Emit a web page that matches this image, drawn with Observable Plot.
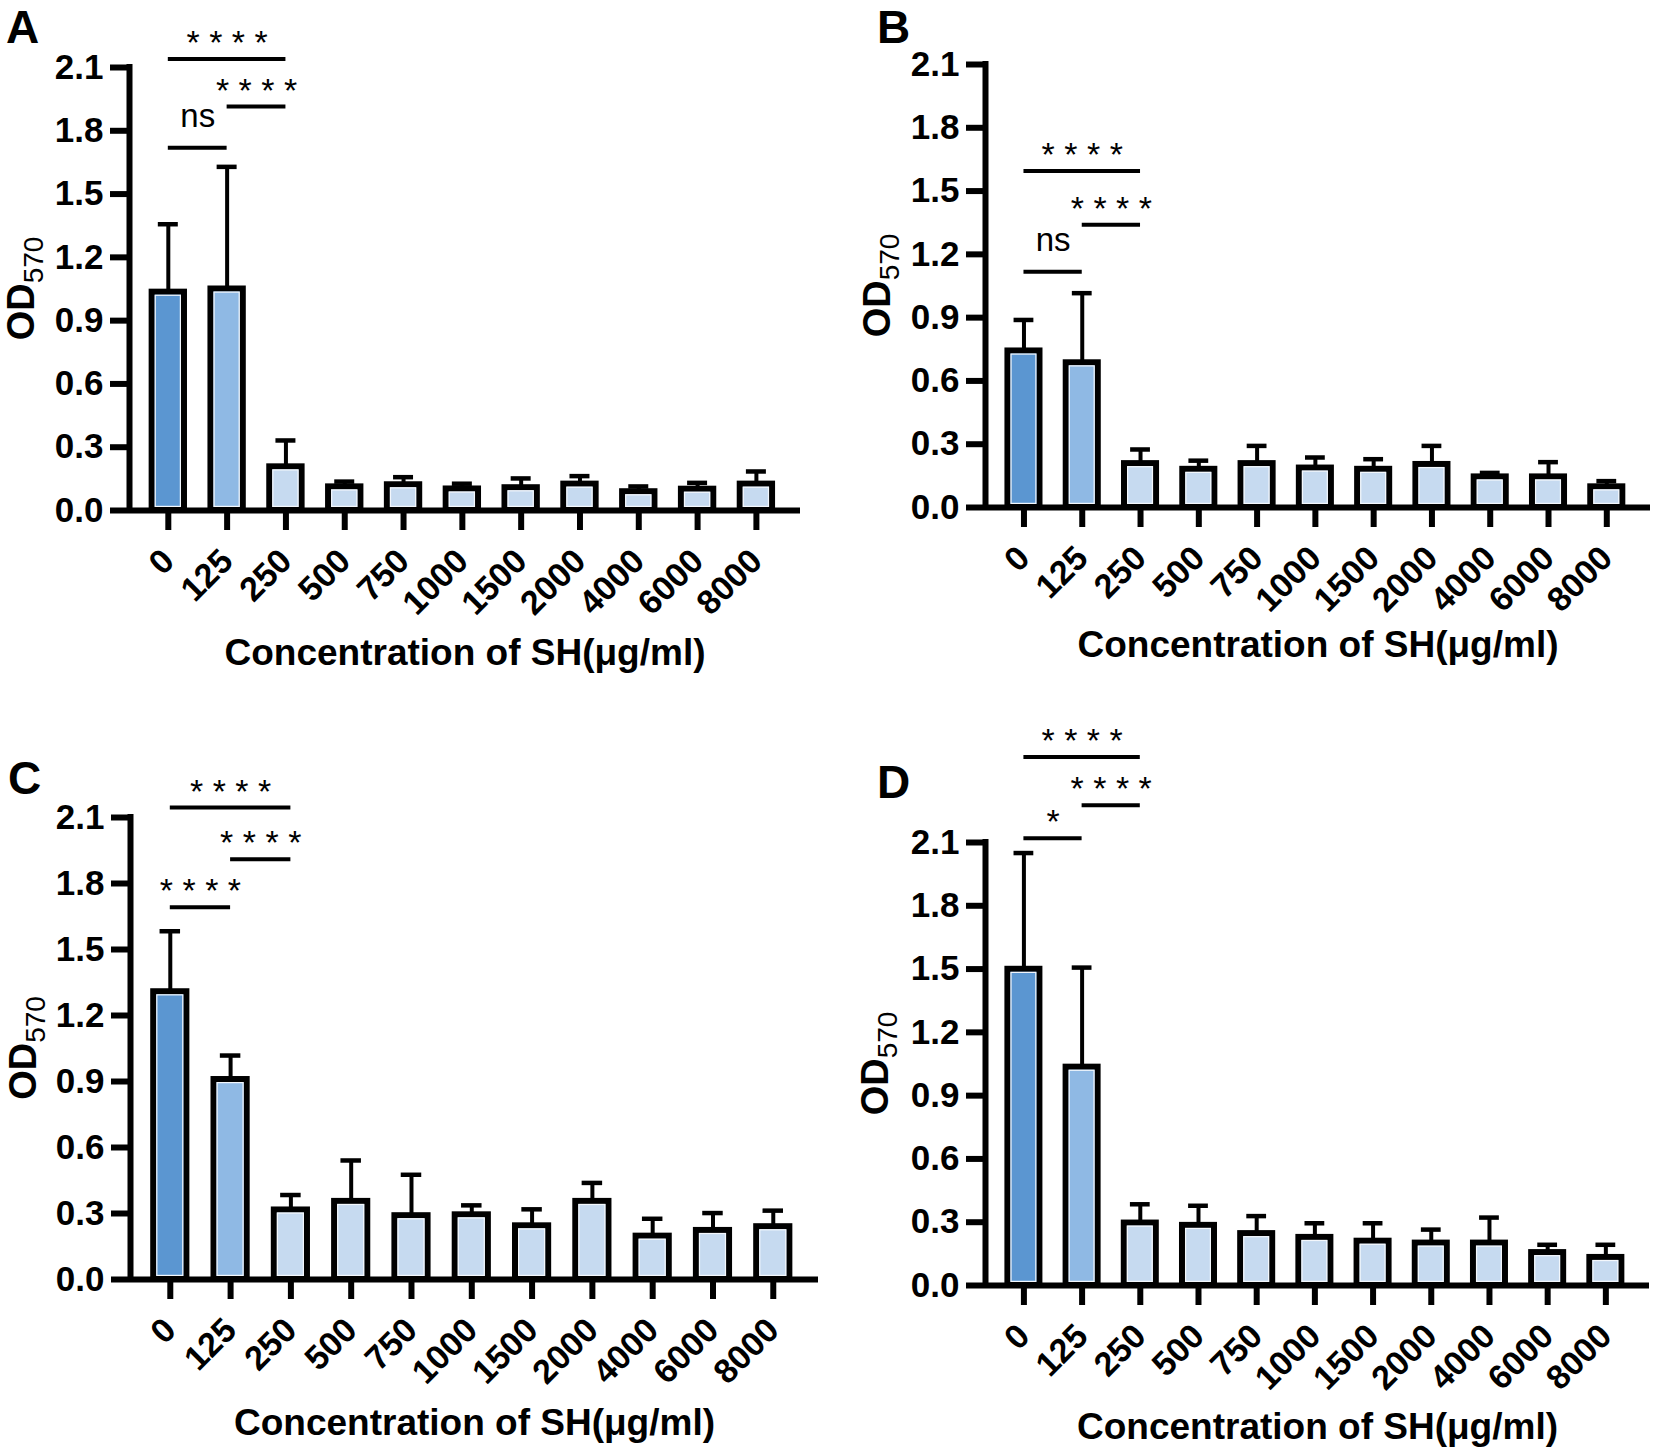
<!DOCTYPE html>
<html>
<head>
<meta charset="utf-8">
<script src="https://cdn.jsdelivr.net/npm/d3@7"></script>
<script src="https://cdn.jsdelivr.net/npm/@observablehq/plot@0.6"></script>
<style>
  html, body { margin: 0; padding: 0; background: #fff; }
  #fig { position: relative; width: 1653px; height: 1449px; background: #fff; overflow: hidden; }
  #fig svg { position: absolute; max-width: none; }
</style>
</head>
<body>
<div id="fig"></div>
<script>
// ---------- data ----------
const concentrations = ["0", "125", "250", "500", "750", "1000", "1500", "2000", "4000", "6000", "8000"];
const yTickValues = [0, 0.3, 0.6, 0.9, 1.2, 1.5, 1.8, 2.1];

const meanA = [1.035, 1.05, 0.207, 0.112, 0.122, 0.102, 0.108, 0.125, 0.089, 0.101, 0.125];
const sdA   = [0.322, 0.579, 0.125, 0.025, 0.036, 0.025, 0.044, 0.038, 0.025, 0.030, 0.060];

const meanB = [0.742, 0.686, 0.208, 0.181, 0.208, 0.187, 0.181, 0.204, 0.145, 0.145, 0.098];
const sdB   = [0.147, 0.330, 0.067, 0.041, 0.084, 0.050, 0.048, 0.088, 0.019, 0.070, 0.027];

const meanC = [1.308, 0.909, 0.316, 0.355, 0.290, 0.294, 0.244, 0.355, 0.197, 0.223, 0.240];
const sdC   = [0.275, 0.109, 0.068, 0.186, 0.186, 0.043, 0.075, 0.084, 0.079, 0.079, 0.073];

const meanD = [1.499, 1.035, 0.296, 0.285, 0.246, 0.228, 0.210, 0.201, 0.201, 0.156, 0.133];
const sdD   = [0.551, 0.472, 0.089, 0.093, 0.083, 0.067, 0.085, 0.064, 0.121, 0.037, 0.060];

const sigA = [
  {from: "0",   to: "250", y: 2.14,  label: "****"},
  {from: "125", to: "250", y: 1.915, label: "****"},
  {from: "0",   to: "125", y: 1.72,  label: "ns"}
];
const sigB = [
  {from: "0",   to: "250", y: 1.595, label: "****"},
  {from: "125", to: "250", y: 1.34,  label: "****"},
  {from: "0",   to: "125", y: 1.118, label: "ns"}
];
const sigC = [
  {from: "0",   to: "250", y: 2.145, label: "****"},
  {from: "125", to: "250", y: 1.91,  label: "****"},
  {from: "0",   to: "125", y: 1.692, label: "****"}
];
const sigD = [
  {from: "0",   to: "250", y: 2.505, label: "****"},
  {from: "125", to: "250", y: 2.277, label: "****"},
  {from: "0",   to: "125", y: 2.12,  label: "*"}
];

const panelLetters = ["A", "B", "C", "D"];
const xTitle = "Concentration of SH(μg/ml)";
const yTitleMain = "OD";
const yTitleSub = "570";

// ---------- styles / layout ----------
const barColors = ["#5b96d1", "#8fb9e4", "#c6daf0"];
const font = "'Liberation Sans', Arial, Helvetica, sans-serif";
const xDomain = [-0.66, 10.75];

const layouts = [
  {left: 0,   top: 0,   width: 830, height: 700, ml: 129, mr: 30, mt: 67,  mb: 190, letterX: 6,  letterY: 43, odX: 34, titleDy: 154},
  {left: 830, top: 0,   width: 823, height: 700, ml: 155, mr: 3,  mt: 64,  mb: 193, letterX: 47, letterY: 43, odX: 60, titleDy: 149},
  {left: 0,   top: 700, width: 830, height: 749, ml: 130, mr: 12, mt: 117, mb: 170, letterX: 8,  letterY: 94, odX: 36, titleDy: 155},
  {left: 830, top: 700, width: 823, height: 749, ml: 155, mr: 4,  mt: 142, mb: 164, letterX: 47, letterY: 98, odX: 58, titleDy: 153}
];

const panels = [
  {mean: meanA, sd: sdA, sig: sigA},
  {mean: meanB, sd: sdB, sig: sigB},
  {mean: meanC, sd: sdC, sig: sigC},
  {mean: meanD, sd: sdD, sig: sigD}
];

const idx = c => concentrations.indexOf(c);
const halfBar = 0.275;
const halfCap = 0.17;

function makePanel(p, L, letter) {
  const data = concentrations.map((c, i) => ({conc: c, i, mean: p.mean[i], upper: p.mean[i] + p.sd[i]}));
  const stars = p.sig.filter(s => s.label !== "ns");
  const ns = p.sig.filter(s => s.label === "ns");

  const svg = Plot.plot({
    width: L.width,
    height: L.height,
    marginLeft: L.ml,
    marginRight: L.mr,
    marginTop: L.mt,
    marginBottom: L.mb,
    style: {fontFamily: font, overflow: "visible", background: "transparent", color: "black"},
    x: {domain: xDomain, label: null},
    y: {domain: [0, 2.1], label: null},
    color: {type: "identity"},
    marks: [
      // error bars (upper only)
      Plot.ruleX(data, {x: "i", y1: "mean", y2: "upper", stroke: "black", strokeWidth: 4}),
      Plot.ruleY(data, {y: "upper", x1: d => d.i - halfCap, x2: d => d.i + halfCap, stroke: "black", strokeWidth: 4.5}),
      // bars
      Plot.rectY(data, {
        x1: d => d.i - halfBar, x2: d => d.i + halfBar, y1: 0, y2: "mean",
        fill: d => barColors[Math.min(d.i, 2)], stroke: "black", strokeWidth: 6
      }),
      Plot.rectY(data, {
        x1: d => d.i - halfBar, x2: d => d.i + halfBar, y1: 0, y2: "mean",
        fill: "none", stroke: "#f3f7fc", strokeWidth: 1.2, inset: 3.6
      }),
      // axis lines
      Plot.ruleY([0], {stroke: "black", strokeWidth: 6}),
      Plot.ruleX([xDomain[0]], {y1: 0, y2: 2.1, stroke: "black", strokeWidth: 6, strokeLinecap: "square"}),
      // axes
      Plot.axisY({
        ticks: yTickValues, tickFormat: d3.format(".1f"), tickSize: 19, tickPadding: 7,
        strokeWidth: 6, fontSize: 35, fontWeight: "bold", label: null
      }),
      Plot.axisX({
        ticks: d3.range(concentrations.length), tickFormat: i => concentrations[i],
        tickSize: 20, tickPadding: 25, tickRotate: -45,
        strokeWidth: 6, fontSize: 34, fontWeight: "bold", label: null
      }),
      // significance brackets
      Plot.ruleY(p.sig, {y: "y", x1: d => idx(d.from), x2: d => idx(d.to), stroke: "black", strokeWidth: 4}),
      Plot.text(stars, {
        x: d => (idx(d.from) + idx(d.to)) / 2, y: "y",
        text: d => d.label.split("").join(" "),
        lineAnchor: "bottom", dy: -5, fontSize: 34
      }),
      Plot.text(ns, {
        x: d => (idx(d.from) + idx(d.to)) / 2, y: "y",
        text: "label", lineAnchor: "bottom", dy: -21, fontSize: 33
      }),
      // x title
      Plot.text([xTitle], {
        text: d => d, frameAnchor: "bottom", lineAnchor: "bottom", dy: L.titleDy,
        fontSize: 37, fontWeight: "bold"
      })
    ]
  });

  svg.style.left = L.left + "px";
  svg.style.top = L.top + "px";

  const s = d3.select(svg);
  s.append("text")
    .attr("x", L.letterX).attr("y", L.letterY)
    .attr("text-anchor", "start")
    .attr("font-family", font).attr("font-size", 46).attr("font-weight", "bold")
    .attr("fill", "black")
    .text(letter);

  const cy = (L.mt + (L.height - L.mb)) / 2;
  const t = s.append("text")
    .attr("transform", `translate(${L.odX},${cy}) rotate(-90)`)
    .attr("text-anchor", "middle")
    .attr("font-family", font)
    .attr("fill", "black");
  t.append("tspan").attr("font-size", 38).attr("font-weight", "bold").text(yTitleMain);
  t.append("tspan").attr("font-size", 28).attr("dy", 9).text(yTitleSub);

  return svg;
}

const fig = document.getElementById("fig");
panels.forEach((p, k) => fig.appendChild(makePanel(p, layouts[k], panelLetters[k])));
</script>
</body>
</html>
